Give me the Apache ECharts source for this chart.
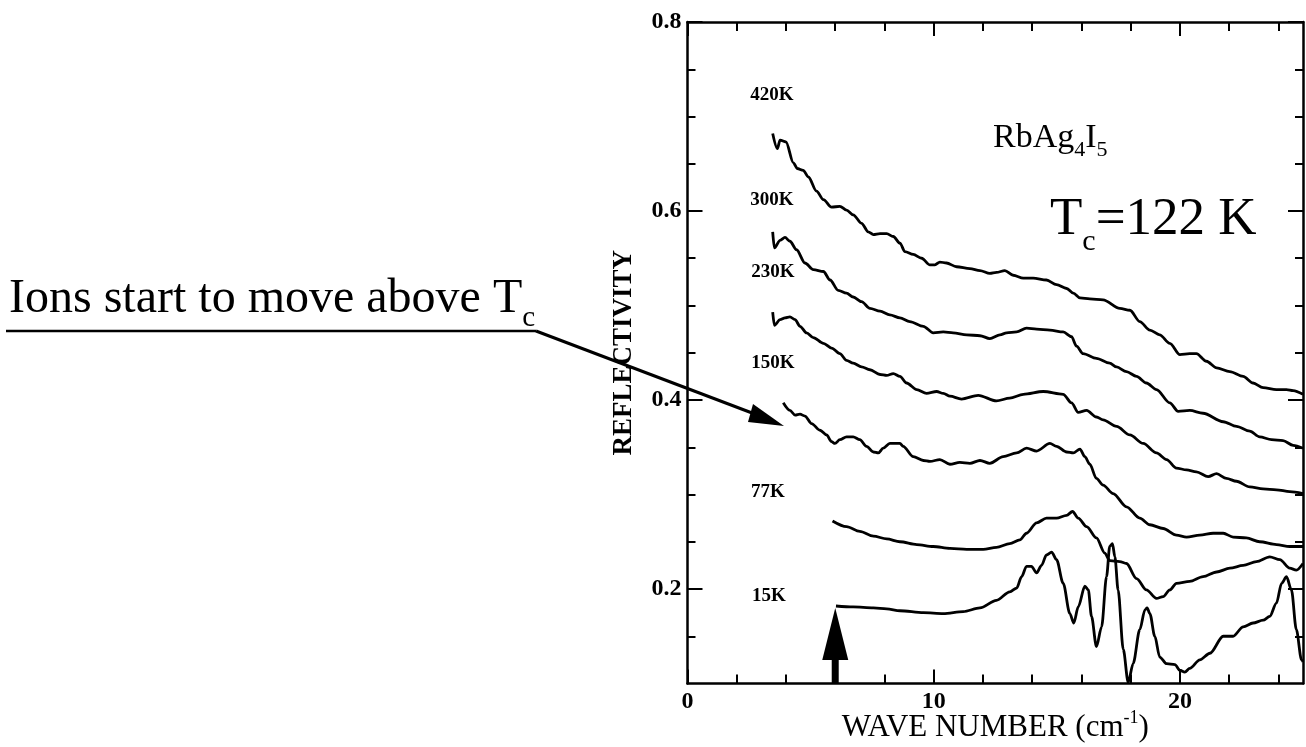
<!DOCTYPE html>
<html>
<head>
<meta charset="utf-8">
<script src="https://cdn.jsdelivr.net/npm/echarts@6/dist/echarts.min.js"></script>
<style>
html, body { margin: 0; padding: 0; background: #fff; }
#main { width: 1306px; height: 747px; }
</style>
</head>
<body>
<div id="main"></div>
<script>
// reflectivity curves, [wave number, reflectivity]
var r420 = [[3.46,0.682],[3.65,0.666],[3.76,0.675],[4.00,0.673],[4.30,0.651],[4.46,0.645],[4.70,0.643],[4.91,0.636],[5.24,0.621],[5.52,0.612],[5.85,0.604],[6.19,0.605],[6.46,0.601],[6.73,0.596],[7.07,0.587],[7.34,0.578],[7.55,0.575],[7.82,0.576],[8.09,0.576],[8.36,0.573],[8.63,0.566],[8.83,0.557],[9.17,0.554],[9.51,0.550],[9.85,0.543],[10.05,0.543],[10.25,0.546],[10.52,0.545],[10.93,0.541],[11.47,0.539],[11.88,0.537],[12.28,0.534],[12.55,0.535],[12.89,0.537],[13.23,0.532],[13.64,0.529],[14.04,0.529],[14.58,0.527],[14.99,0.522],[15.40,0.518],[15.67,0.513],[15.94,0.508],[16.34,0.507],[16.88,0.506],[17.56,0.497],[17.97,0.495],[18.37,0.483],[18.78,0.474],[19.18,0.469],[19.59,0.460],[20.00,0.448],[20.40,0.449],[20.67,0.449],[21.08,0.441],[21.49,0.434],[22.03,0.430],[22.57,0.425],[22.97,0.418],[23.38,0.413],[23.92,0.411],[24.33,0.411],[24.60,0.410],[25.00,0.406]];
var r300 = [[3.46,0.578],[3.53,0.561],[3.76,0.569],[3.96,0.572],[4.16,0.568],[4.43,0.559],[4.77,0.545],[5.11,0.538],[5.52,0.536],[5.79,0.527],[6.12,0.516],[6.46,0.513],[6.73,0.509],[7.07,0.504],[7.41,0.497],[7.82,0.494],[8.22,0.490],[8.63,0.487],[9.03,0.483],[9.58,0.478],[9.98,0.471],[10.39,0.472],[10.79,0.471],[11.34,0.469],[11.88,0.468],[12.28,0.465],[12.69,0.469],[12.96,0.471],[13.37,0.472],[13.77,0.476],[14.18,0.475],[14.72,0.474],[15.26,0.472],[15.60,0.467],[15.80,0.457],[16.07,0.449],[16.61,0.444],[17.15,0.439],[17.43,0.435],[17.83,0.430],[18.24,0.425],[18.64,0.418],[19.05,0.411],[19.59,0.397],[19.93,0.388],[20.40,0.389],[20.94,0.386],[21.76,0.377],[22.30,0.372],[22.84,0.367],[23.24,0.361],[23.72,0.358],[24.19,0.357],[24.60,0.352],[25.00,0.349]];
var r230 = [[3.46,0.493],[3.53,0.479],[3.76,0.485],[3.96,0.487],[4.16,0.488],[4.37,0.485],[4.57,0.478],[4.84,0.471],[5.11,0.466],[5.52,0.460],[5.85,0.455],[6.19,0.449],[6.46,0.442],[6.73,0.439],[7.07,0.435],[7.41,0.432],[7.82,0.427],[8.09,0.426],[8.36,0.428],[8.63,0.425],[8.90,0.418],[9.31,0.411],[9.71,0.407],[10.12,0.409],[10.39,0.407],[10.66,0.404],[11.13,0.401],[11.81,0.405],[12.55,0.399],[13.09,0.402],[13.64,0.406],[14.45,0.409],[15.26,0.406],[15.60,0.397],[15.87,0.387],[16.21,0.389],[16.61,0.382],[16.88,0.379],[17.43,0.372],[17.97,0.363],[18.51,0.354],[19.05,0.344],[19.46,0.337],[19.86,0.328],[20.27,0.326],[20.67,0.324],[21.15,0.319],[21.49,0.322],[21.89,0.317],[22.30,0.314],[22.84,0.308],[23.38,0.306],[23.92,0.305],[24.46,0.303],[25.00,0.301]];
var r150 = [[3.89,0.397],[4.16,0.389],[4.37,0.384],[4.57,0.385],[4.77,0.383],[5.04,0.375],[5.38,0.368],[5.65,0.363],[5.85,0.356],[5.99,0.354],[6.19,0.358],[6.46,0.361],[6.73,0.361],[7.00,0.358],[7.27,0.351],[7.55,0.345],[7.75,0.344],[7.95,0.349],[8.22,0.354],[8.63,0.354],[8.76,0.351],[9.17,0.340],[9.58,0.336],[9.85,0.335],[10.25,0.337],[10.66,0.332],[11.06,0.334],[11.47,0.333],[11.88,0.336],[12.28,0.333],[12.82,0.340],[13.37,0.344],[13.77,0.349],[14.18,0.346],[14.72,0.354],[14.99,0.351],[15.40,0.345],[15.67,0.344],[15.94,0.348],[16.14,0.340],[16.34,0.332],[16.61,0.317],[16.88,0.310],[17.29,0.301],[17.83,0.287],[18.37,0.275],[18.78,0.268],[19.32,0.264],[19.86,0.257],[20.27,0.255],[20.81,0.257],[21.35,0.259],[21.76,0.259],[22.16,0.255],[22.70,0.254],[23.24,0.250],[23.92,0.247],[24.46,0.245],[25.00,0.245]];
var r77 = [[5.89,0.272],[6.46,0.266],[7.00,0.261],[7.55,0.256],[8.09,0.253],[8.63,0.250],[9.31,0.247],[9.98,0.245],[10.66,0.243],[11.34,0.242],[12.01,0.242],[12.55,0.244],[13.09,0.248],[13.50,0.252],[13.77,0.259],[14.18,0.270],[14.58,0.275],[14.99,0.275],[15.40,0.278],[15.64,0.282],[15.87,0.275],[16.21,0.266],[16.61,0.254],[16.95,0.238],[17.15,0.230],[17.56,0.229],[17.83,0.227],[18.24,0.211],[18.64,0.199],[19.05,0.190],[19.32,0.192],[19.59,0.199],[19.86,0.206],[20.40,0.208],[20.94,0.213],[21.49,0.218],[22.03,0.222],[22.57,0.225],[23.11,0.229],[23.65,0.234],[24.06,0.231],[24.46,0.222],[24.73,0.220],[25.00,0.227]];
var r15 = [[6.03,0.182],[6.73,0.181],[7.55,0.180],[8.09,0.179],[8.63,0.177],[9.58,0.175],[10.39,0.174],[11.20,0.176],[11.88,0.180],[12.55,0.188],[13.09,0.197],[13.37,0.201],[13.57,0.213],[13.77,0.224],[13.97,0.224],[14.18,0.217],[14.38,0.225],[14.58,0.236],[14.79,0.239],[14.99,0.231],[15.26,0.206],[15.53,0.174],[15.69,0.164],[15.87,0.181],[16.14,0.203],[16.28,0.199],[16.41,0.171],[16.61,0.139],[16.82,0.160],[17.02,0.213],[17.15,0.245],[17.26,0.248],[17.36,0.234],[17.49,0.199],[17.70,0.136],[17.90,0.101],[18.10,0.121],[18.37,0.157],[18.58,0.178],[18.67,0.180],[18.78,0.174],[18.98,0.150],[19.18,0.128],[19.46,0.121],[19.80,0.120],[20.00,0.114],[20.20,0.112],[20.40,0.116],[20.81,0.125],[21.22,0.132],[21.76,0.150],[22.16,0.150],[22.57,0.160],[22.97,0.164],[23.38,0.167],[23.65,0.171],[23.92,0.185],[24.13,0.206],[24.33,0.213],[24.53,0.199],[24.73,0.157],[24.94,0.125],[25.00,0.123]];

// temperature labels next to each curve
var tempNames = ['420K', '300K', '230K', '150K', '77K', '15K'];
var tempLabelX = [3.43, 3.43, 3.47, 3.47, 3.27, 3.31];
var tempLabelY = [0.723, 0.612, 0.535, 0.439, 0.303, 0.193];

// ticks
var xMajor = [0, 10, 20];
var xMinor = [2, 4, 6, 8, 12, 14, 16, 18, 22, 24];
var yMajor = [0.2, 0.4, 0.6, 0.8];
var yMinor = [0.15, 0.25, 0.3, 0.35, 0.45, 0.5, 0.55, 0.65, 0.7, 0.75];

// arrow marking the 15K onset
var arrowX = 6;
var arrowTipY = 0.18;

var serif = '"Liberation Serif", "DejaVu Serif", serif';
var chart = echarts.init(document.getElementById('main'));

function xAx(pos, ticks, len, main) {
  return {
    type: 'value', position: pos, min: 0, max: 25,
    axisLine: { show: main, onZero: false, lineStyle: { color: '#000', width: 2.5 } },
    axisTick: { show: true, inside: true, length: len, customValues: ticks, lineStyle: { color: '#000', width: 2 } },
    axisLabel: { show: false },
    splitLine: { show: false }
  };
}
function yAx(pos, ticks, len, main) {
  return {
    type: 'value', position: pos, min: 0.1, max: 0.8,
    axisLine: { show: main, onZero: false, lineStyle: { color: '#000', width: 2.5 } },
    axisTick: { show: true, inside: true, length: len, customValues: ticks, lineStyle: { color: '#000', width: 2 } },
    axisLabel: { show: false },
    splitLine: { show: false }
  };
}

var xBottom = xAx('bottom', xMajor, 14, true);
xBottom.axisLabel = {
  show: true, customValues: xMajor, margin: 6,
  fontFamily: serif, fontWeight: 'bold', fontSize: 24, color: '#000'
};
xBottom.name = '{a|WAVE NUMBER (cm}{b|-1}{a|)}';
xBottom.nameLocation = 'middle';
xBottom.nameGap = 26;
xBottom.nameMoveOverlap = false;
xBottom.nameTextStyle = {
  rich: {
    a: { fontFamily: serif, fontSize: 31, color: '#000', lineHeight: 36 },
    b: { fontFamily: serif, fontSize: 18, color: '#000', lineHeight: 18, verticalAlign: 'top' }
  }
};

var yLeft = yAx('left', yMajor, 15, true);
yLeft.axisLabel = {
  show: true, customValues: yMajor, margin: 6,
  formatter: function (v) { return v.toFixed(1); },
  fontFamily: serif, fontWeight: 'bold', fontSize: 24, color: '#000'
};
yLeft.name = 'REFLECTIVITY';
yLeft.nameLocation = 'middle';
yLeft.nameGap = 50;
yLeft.nameRotate = 90;
yLeft.nameMoveOverlap = false;
yLeft.nameTextStyle = { fontFamily: serif, fontWeight: 'bold', fontSize: 27, color: '#000' };

function curve(name, data) {
  return {
    name: name, type: 'line', data: data, xAxisIndex: 0, yAxisIndex: 0,
    showSymbol: false, smooth: 0.3, smoothMonotone: 'x', clip: true,
    lineStyle: { color: '#000', width: 2.8 }, silent: true
  };
}

var option = {
  animation: false,
  backgroundColor: '#fff',
  grid: { left: 687.5, right: 3, top: 22, bottom: 63.5, outerBoundsMode: 'none' },
  xAxis: [xBottom, xAx('bottom', xMinor, 9, false), xAx('top', xMajor, 14, true), xAx('top', xMinor, 9, false)],
  yAxis: [yLeft, yAx('left', yMinor, 8, false), yAx('right', yMajor, 15, true), yAx('right', yMinor, 8, false)],
  series: [
    curve('420K', r420), curve('300K', r300), curve('230K', r230),
    curve('150K', r150), curve('77K', r77), curve('15K', r15),
    {
      type: 'scatter', xAxisIndex: 0, yAxisIndex: 0, silent: true,
      symbolSize: 1, itemStyle: { color: 'rgba(255,255,255,0)', opacity: 1 },
      data: tempNames.map(function (n, i) { return { name: n, value: [tempLabelX[i], tempLabelY[i]] }; }),
      label: { show: true, position: 'inside', formatter: '{b}', fontFamily: serif, fontWeight: 'bold', fontSize: 19, color: '#000' }
    }
  ]
};
chart.setOption(option);

// annotations
var tip = chart.convertToPixel({ xAxisIndex: 0, yAxisIndex: 0 }, [arrowX, arrowTipY]);
var foot = chart.convertToPixel({ xAxisIndex: 0, yAxisIndex: 0 }, [arrowX, 0.1]);
chart.setOption({
  graphic: [
    {
      type: 'text', left: 993, top: 121,
      style: {
        text: '{m|RbAg}{s|4}{m|I}{s|5}',
        rich: {
          m: { fontFamily: serif, fontSize: 34, color: '#000', lineHeight: 40, verticalAlign: 'top' },
          s: { fontFamily: serif, fontSize: 22, color: '#000', lineHeight: 40, verticalAlign: 'bottom' }
        }
      }
    },
    {
      type: 'text', left: 1050, top: 194,
      style: {
        text: '{m|T}{s|c}{m|=122 K}',
        rich: {
          m: { fontFamily: serif, fontSize: 53, color: '#000', lineHeight: 62, verticalAlign: 'top' },
          s: { fontFamily: serif, fontSize: 30, color: '#000', lineHeight: 63, verticalAlign: 'bottom' }
        }
      }
    },
    {
      type: 'text', left: 9, top: 275,
      style: {
        text: '{m|Ions start to move above T}{s|c}',
        rich: {
          m: { fontFamily: serif, fontSize: 48, color: '#000', lineHeight: 56, verticalAlign: 'top' },
          s: { fontFamily: serif, fontSize: 29, color: '#000', lineHeight: 58, verticalAlign: 'bottom' }
        }
      }
    },
    { type: 'line', shape: { x1: 6, y1: 331, x2: 536, y2: 331 }, style: { stroke: '#000', lineWidth: 2.5 } },
    { type: 'line', shape: { x1: 536, y1: 331, x2: 760, y2: 416 }, style: { stroke: '#000', lineWidth: 3 } },
    { type: 'polygon', shape: { points: [[784, 426], [753, 404], [748, 422]] }, style: { fill: '#000' } },
    {
      type: 'polygon',
      shape: { points: [[tip[0], tip[1]], [tip[0] - 13, tip[1] + 52], [tip[0] + 13, tip[1] + 52]] },
      style: { fill: '#000' }
    },
    {
      type: 'rect',
      shape: { x: tip[0] - 3.5, y: tip[1] + 50, width: 7, height: foot[1] - tip[1] - 50 },
      style: { fill: '#000' }
    }
  ]
});
</script>
</body>
</html>
